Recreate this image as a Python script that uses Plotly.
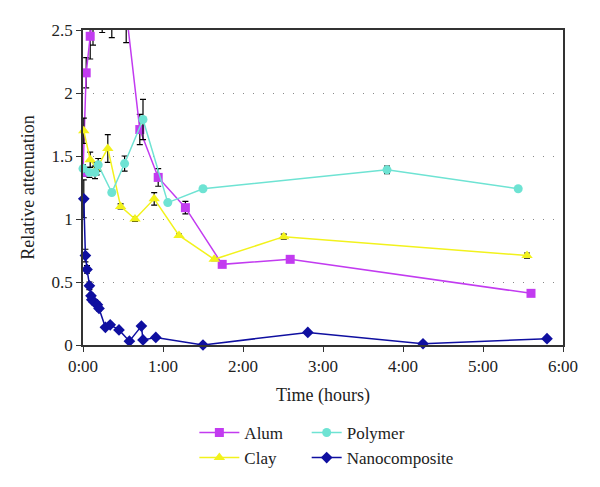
import plotly.graph_objects as go

# ---- data (hours, relative attenuation, error) ----
alum_x = [0.0, 0.04, 0.09, 0.125, 0.24, 0.36, 0.54, 0.71, 0.94, 1.28, 1.74, 2.59, 5.6]
alum_y = [1.37, 2.16, 2.45, 2.62, 2.58, 2.62, 2.65, 1.71, 1.33, 1.09, 0.64, 0.68, 0.41]
alum_e = [0.03, 0.12, 0.18, 0.24, 0.10, 0.18, 0.25, 0.12, 0.07, 0.05, 0.01, 0.01, 0.02]

clay_x = [0.01, 0.09, 0.17, 0.31, 0.47, 0.65, 0.89, 1.2, 1.64, 2.51, 5.55]
clay_y = [1.70, 1.47, 1.40, 1.56, 1.10, 1.00, 1.16, 0.87, 0.68, 0.86, 0.71]
clay_e = [0.10, 0.06, 0.05, 0.11, 0.02, 0.02, 0.05, 0.01, 0.01, 0.02, 0.02]

poly_x = [0.0, 0.08, 0.15, 0.19, 0.36, 0.52, 0.75, 1.06, 1.5, 3.80, 5.44]
poly_y = [1.40, 1.37, 1.37, 1.43, 1.21, 1.44, 1.79, 1.13, 1.24, 1.39, 1.24]
poly_e = [0.03, 0.04, 0.05, 0.05, 0.01, 0.06, 0.16, 0.01, 0.01, 0.03, 0.01]

nano_x = [0.01, 0.03, 0.05, 0.08, 0.10, 0.11, 0.14, 0.18, 0.20, 0.28, 0.34, 0.45,
          0.58, 0.73, 0.75, 0.91, 1.50, 2.81, 4.25, 5.80]
nano_y = [1.16, 0.71, 0.60, 0.47, 0.39, 0.36, 0.34, 0.32, 0.29, 0.14, 0.16, 0.12,
          0.03, 0.15, 0.04, 0.06, 0.00, 0.10, 0.01, 0.05]
nano_e = [0.15, 0.05, 0.03, 0.03, 0.02, 0.02, 0.02, 0.02, 0.02, 0.01, 0.01, 0.01,
          0.01, 0.01, 0.01, 0.01, 0.01, 0.01, 0.01, 0.01]

x_ticks = [0, 1, 2, 3, 4, 5, 6]
x_labels = ["0:00", "1:00", "2:00", "3:00", "4:00", "5:00", "6:00"]
y_ticks = [0, 0.5, 1, 1.5, 2, 2.5]
y_labels = ["0", "0.5", "1", "1.5", "2", "2.5"]

FONT = "Liberation Serif"

def err(arr):
    return dict(type="data", array=arr, visible=True, color="black",
                thickness=1.2, width=3)

fig = go.Figure()
fig.add_trace(go.Scatter(x=alum_x, y=alum_y, name="Alum", mode="lines+markers",
                         line=dict(color="#C23BF0", width=1.5),
                         marker=dict(symbol="square", size=9, color="#C23BF0"),
                         error_y=err(alum_e), legend="legend", cliponaxis=True))
fig.add_trace(go.Scatter(x=clay_x, y=clay_y, name="Clay", mode="lines+markers",
                         line=dict(color="#F2F21C", width=1.5),
                         marker=dict(symbol="triangle-up", size=10, color="#F2F21C"),
                         error_y=err(clay_e), legend="legend", cliponaxis=False))
fig.add_trace(go.Scatter(x=poly_x, y=poly_y, name="Polymer", mode="lines+markers",
                         line=dict(color="#6EE3D3", width=1.5),
                         marker=dict(symbol="circle", size=9, color="#6EE3D3"),
                         error_y=err(poly_e), legend="legend2", cliponaxis=False))
fig.add_trace(go.Scatter(x=nano_x, y=nano_y, name="Nanocomposite", mode="lines+markers",
                         line=dict(color="#0F0FA0", width=1.5),
                         marker=dict(symbol="diamond", size=9, color="#0F0FA0"),
                         error_y=err(nano_e), legend="legend2", cliponaxis=False))

fig.update_layout(
    width=600, height=487,
    margin=dict(l=75, r=45, t=22, b=150, autoexpand=False),
    paper_bgcolor="white", plot_bgcolor="white",
    font=dict(family=FONT, size=16, color="#222"),
    xaxis=dict(range=[0, 6], tickvals=x_ticks, ticktext=x_labels, automargin=False,
               showline=True, linecolor="#333", linewidth=1.5, mirror=True,
               ticks="outside", ticklen=5, tickcolor="#333", showgrid=False,
               zeroline=False, tickfont=dict(family=FONT, size=17),
               title=dict(text="Time (hours)", font=dict(family=FONT, size=18), standoff=13)),
    yaxis=dict(range=[0, 2.5], tickvals=y_ticks, ticktext=y_labels, automargin=False,
               showline=True, linecolor="#333", linewidth=1.5, mirror=True,
               ticks="outside", ticklen=5, tickcolor="#333",
               showgrid=True, gridcolor="#888", gridwidth=1.2, griddash="1px,9px",
               zeroline=False, tickfont=dict(family=FONT, size=17),
               title=dict(text="Relative attenuation", font=dict(family=FONT, size=18), standoff=12)),
    legend=dict(x=0.232, y=-0.222, xanchor="left", yanchor="top",
                bgcolor="rgba(0,0,0,0)", font=dict(family=FONT, size=17), itemwidth=40,
                tracegroupgap=0),
    legend2=dict(x=0.466, y=-0.222, xanchor="left", yanchor="top",
                 bgcolor="rgba(0,0,0,0)", font=dict(family=FONT, size=17), itemwidth=30,
                 tracegroupgap=0),
)

fig.write_html("out.html")
